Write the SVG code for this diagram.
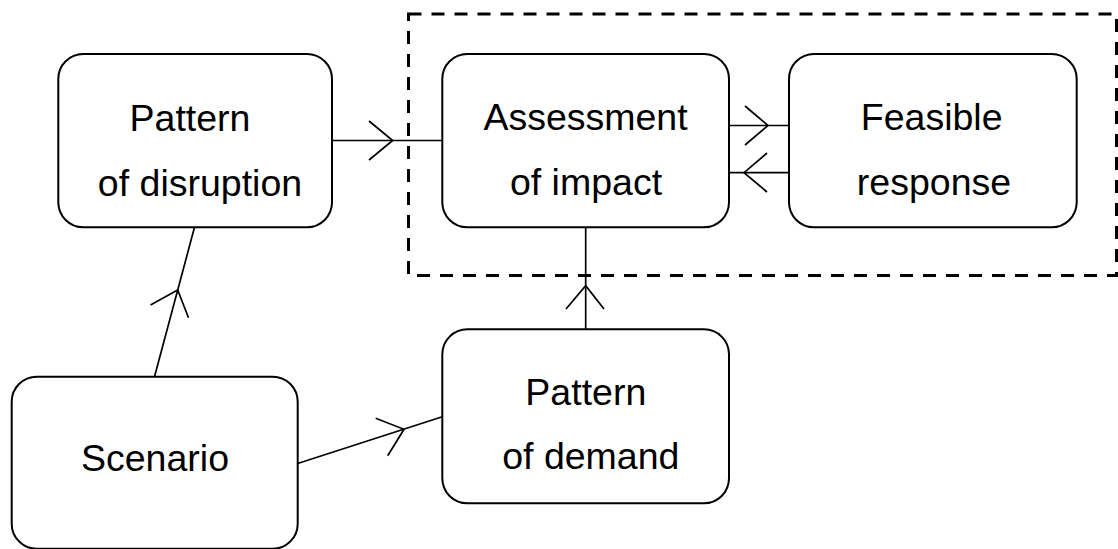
<svg xmlns="http://www.w3.org/2000/svg" width="1118" height="549" viewBox="0 0 1118 549">
<style>
.box{fill:#ffffff;stroke:#000000;stroke-width:2}
.lbl{font-family:"Liberation Sans",Arial,sans-serif;font-size:37.5px;fill:#000000;text-anchor:middle}
.edge{fill:none;stroke:#000000;stroke-width:1.7;stroke-linecap:butt;stroke-linejoin:miter}
.dash{fill:none;stroke:#000000;stroke-width:3;stroke-dasharray:13 10}
</style>
<rect x="0" y="0" width="1118" height="549" fill="#ffffff"/>
<g id="connectors">
  <path class="edge" d="M332,140.5 L442.3,140.5"/>
  <path class="edge" d="M369,121 L392.7,140.5 L369,160"/>
  <path class="edge" d="M729,125.5 L789,125.5"/>
  <path class="edge" d="M745,106 L768,125.5 L745,145"/>
  <path class="edge" d="M729,172.7 L789,172.7"/>
  <path class="edge" d="M767,153 L744,172.7 L767,192"/>
  <path class="edge" d="M585.7,227.3 L585.7,329.3"/>
  <path class="edge" d="M566,309 L585.7,285.7 L604,309"/>
  <path class="edge" d="M154.5,376.7 L194.5,227.3"/>
  <path class="edge" d="M150.5,305 L177.7,290 L188.5,317.7"/>
  <path class="edge" d="M297.7,463.5 L442.3,416.7"/>
  <path class="edge" d="M375.7,418.3 L404,429.3 L387.7,455.7"/>
</g>
<g id="node-disruption">
  <rect class="box" x="58.3" y="54" width="273.7" height="173.3" rx="25" ry="25"/>
  <text class="lbl" x="190" y="130.7">Pattern</text>
  <text class="lbl" x="200" y="195.7">of disruption</text>
</g>
<g id="node-assessment">
  <rect class="box" x="442.3" y="54" width="286.7" height="173.3" rx="25" ry="25"/>
  <text class="lbl" x="585.5" y="130">Assessment</text>
  <text class="lbl" x="586" y="195">of impact</text>
</g>
<g id="node-feasible">
  <rect class="box" x="789" y="54" width="287.7" height="173.3" rx="25" ry="25"/>
  <text class="lbl" x="931.7" y="130">Feasible</text>
  <text class="lbl" x="934" y="195">response</text>
</g>
<g id="node-demand">
  <rect class="box" x="442.3" y="329.3" width="286.7" height="174" rx="25" ry="25"/>
  <text class="lbl" x="585.8" y="405">Pattern</text>
  <text class="lbl" x="590.8" y="469">of demand</text>
</g>
<g id="node-scenario">
  <rect class="box" x="11.7" y="376.7" width="286" height="172" rx="25" ry="25"/>
  <text class="lbl" x="155" y="471">Scenario</text>
</g>
<g id="group-boundary">
  <rect class="dash" x="408.5" y="14" width="708" height="261.5"/>
</g>
</svg>
